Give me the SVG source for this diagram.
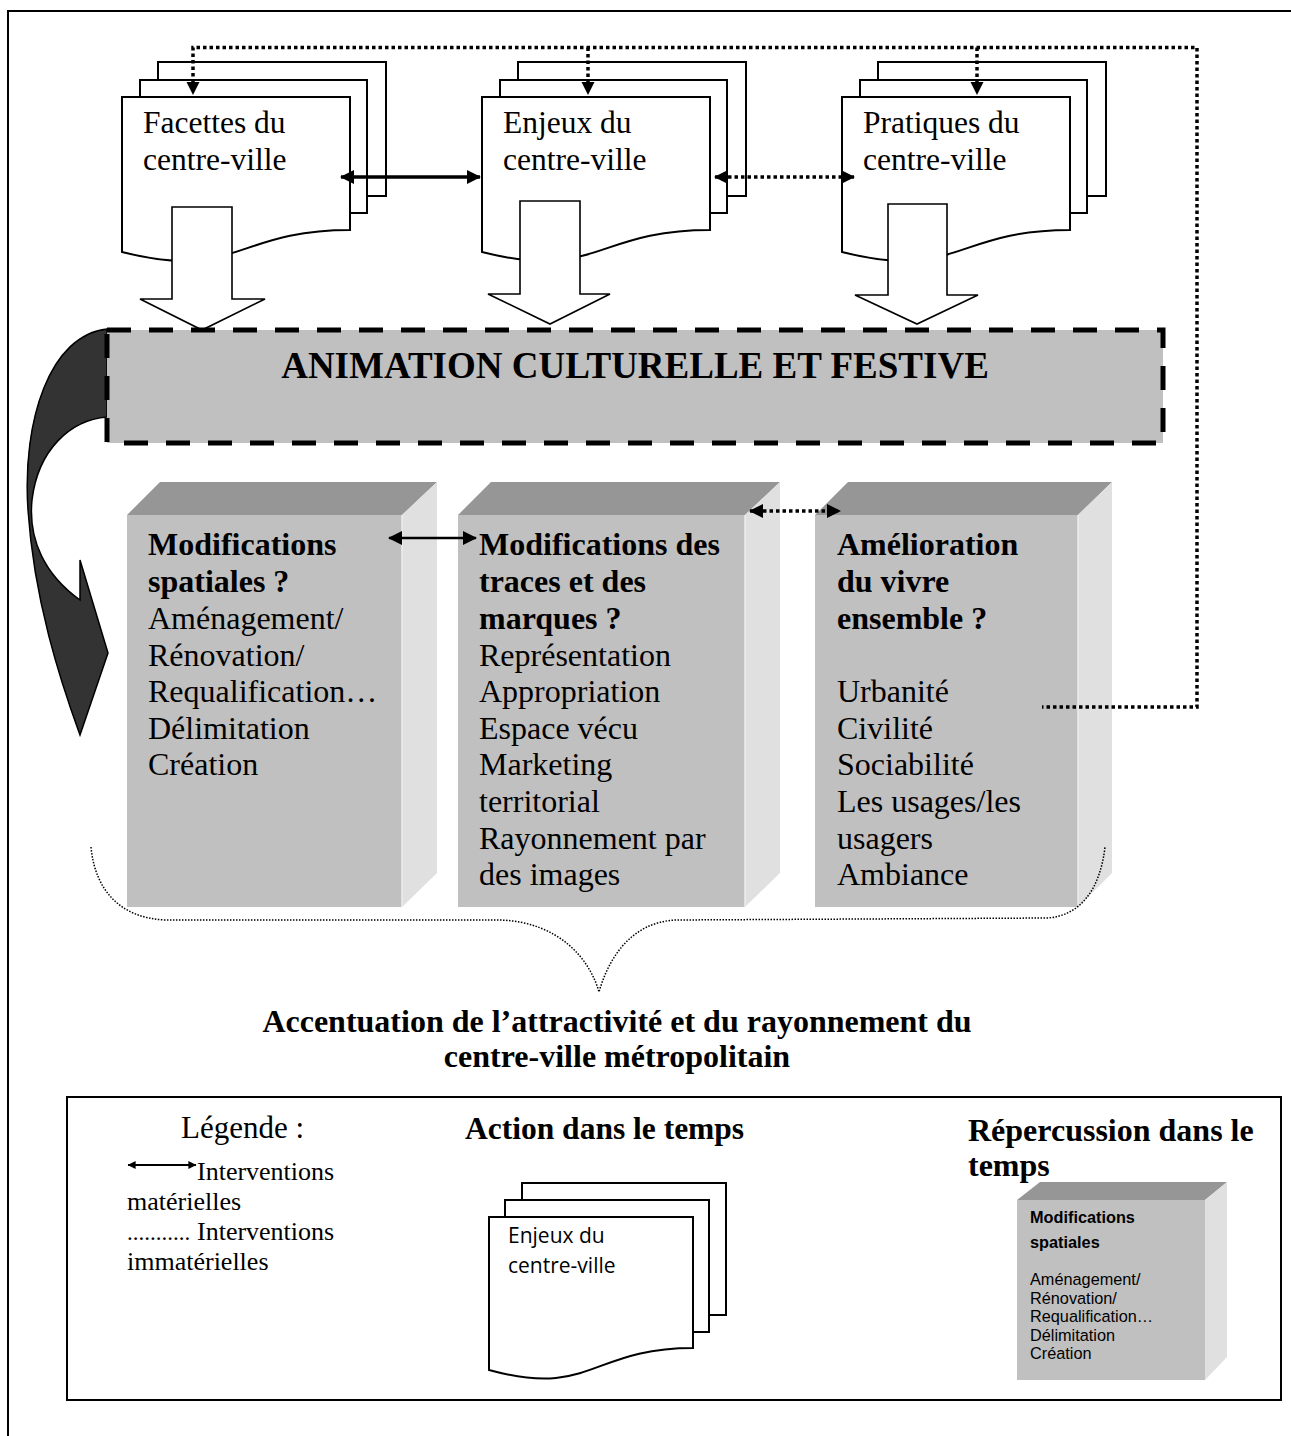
<svg xmlns="http://www.w3.org/2000/svg" width="1291" height="1436" viewBox="0 0 1291 1436">
<defs>
<style>
.serif{font-family:"Liberation Serif","Times New Roman",serif;fill:#000}
.sans{font-family:"Open Sans","Noto Sans",sans-serif;fill:#000}
.lsans{font-family:"Liberation Sans",Arial,sans-serif;fill:#000}
.b{font-weight:bold}
.page{fill:#fff;stroke:#000;stroke-width:2}
.blk{fill:#fff;stroke:#000;stroke-width:1.6}
.solid{stroke:#000;stroke-width:3.5;fill:none}
.dot{stroke:#000;stroke-width:3.5;fill:none;stroke-dasharray:3.5 3}
.front{fill:#c0c0c0}
.top{fill:#969696}
.side{fill:#e0e0e0}
</style>
<marker id="ah" viewBox="0 0 14 14" refX="13" refY="7" markerWidth="14" markerHeight="14" markerUnits="userSpaceOnUse" orient="auto-start-reverse">
<path d="M0,0 L14,7 L0,14 Z" fill="#000"/>
</marker>
<marker id="ahs" viewBox="0 0 10 10" refX="9.5" refY="5" markerWidth="9" markerHeight="8" markerUnits="userSpaceOnUse" orient="auto-start-reverse">
<path d="M0,0 L10,5 L0,10 Z" fill="#000"/>
</marker>
</defs>
<rect width="1291" height="1436" fill="#fff"/>
<path d="M8,1436 V11 H1291" fill="none" stroke="#000" stroke-width="2"/>

<g id="doc-facettes">
<rect class="page" x="158" y="62" width="228" height="134"/>
<rect class="page" x="140" y="80" width="227" height="133"/>
<path class="page" d="M122,97 H350 V230 C236,230 236,281 122,252 Z"/>
<text class="serif" font-size="31.5" x="143" y="133">Facettes du</text>
<text class="serif" font-size="31.5" x="143" y="170">centre-ville</text>
</g>
<g id="doc-enjeux">
<rect class="page" x="518" y="62" width="228" height="134"/>
<rect class="page" x="500" y="80" width="227" height="133"/>
<path class="page" d="M482,97 H710 V230 C596,230 596,281 482,252 Z"/>
<text class="serif" font-size="31.5" x="503" y="133">Enjeux du</text>
<text class="serif" font-size="31.5" x="503" y="170">centre-ville</text>
</g>
<g id="doc-pratiques">
<rect class="page" x="878" y="62" width="228" height="134"/>
<rect class="page" x="860" y="80" width="227" height="133"/>
<path class="page" d="M842,97 H1070 V230 C956,230 956,281 842,252 Z"/>
<text class="serif" font-size="31.5" x="863" y="133">Pratiques du</text>
<text class="serif" font-size="31.5" x="863" y="170">centre-ville</text>
</g>

<g id="block-arrows">
<path class="blk" d="M172,207 H232 V299 H265 L202,330 L140,299 H172 Z"/>
<path class="blk" d="M520,201 H580 V294 H610 L550,324 L488,294 H520 Z"/>
<path class="blk" d="M888,204 H947 V295 H978 L917,324 L855,295 H888 Z"/>
</g>

<g id="curved-arrow">
<path d="M107,329 C50,335 22,420 28,510 C34,600 60,680 80,735 L108,653 L80,560 L80,600 C45,575 28,540 32,500 C38,450 70,420 107,417 Z" fill="#333" stroke="#000" stroke-width="1.5"/>
</g>

<g id="animation">
<rect x="107" y="330" width="1056" height="113" fill="#c0c0c0" stroke="#000" stroke-width="5" stroke-dasharray="24 18"/>
<text class="serif b" font-size="37" x="635" y="378" text-anchor="middle">ANIMATION CULTURELLE ET FESTIVE</text>
</g>

<g id="box-spatiales">
<polygon class="top" points="127,515 160,482 437,482 402,515"/>
<polygon class="side" points="402,515 437,482 437,873 402,907"/>
<rect class="front" x="127" y="515" width="275" height="392"/>
<line x1="402" y1="515" x2="402" y2="907" stroke="#ececec" stroke-width="1.5"/>
<g class="serif" font-size="32">
<text class="b" x="148" y="555">Modifications</text>
<text class="b" x="148" y="592">spatiales ?</text>
<text x="148" y="629">Aménagement/</text>
<text x="148" y="666">Rénovation/</text>
<text x="148" y="702">Requalification…</text>
<text x="148" y="739">Délimitation</text>
<text x="148" y="775">Création</text>
</g>
</g>

<g id="box-traces">
<polygon class="top" points="458,515 491,482 780,482 745,515"/>
<polygon class="side" points="745,515 780,482 780,873 745,907"/>
<rect class="front" x="458" y="515" width="287" height="392"/>
<line x1="745" y1="515" x2="745" y2="907" stroke="#ececec" stroke-width="1.5"/>
<g class="serif" font-size="32">
<text class="b" x="479" y="555">Modifications des</text>
<text class="b" x="479" y="592">traces et des</text>
<text class="b" x="479" y="629">marques ?</text>
<text x="479" y="666">Représentation</text>
<text x="479" y="702">Appropriation</text>
<text x="479" y="739">Espace vécu</text>
<text x="479" y="775">Marketing</text>
<text x="479" y="812">territorial</text>
<text x="479" y="849">Rayonnement par</text>
<text x="479" y="885">des images</text>
</g>
</g>

<g id="box-vivre">
<polygon class="top" points="815,515 848,482 1112,482 1078,515"/>
<polygon class="side" points="1078,515 1112,482 1112,873 1078,907"/>
<rect class="front" x="815" y="515" width="263" height="392"/>
<line x1="1078" y1="515" x2="1078" y2="907" stroke="#ececec" stroke-width="1.5"/>
<g class="serif" font-size="32">
<text class="b" x="837" y="555">Amélioration</text>
<text class="b" x="837" y="592">du vivre</text>
<text class="b" x="837" y="629">ensemble ?</text>
<text x="837" y="702">Urbanité</text>
<text x="837" y="739">Civilité</text>
<text x="837" y="775">Sociabilité</text>
<text x="837" y="812">Les usages/les</text>
<text x="837" y="849">usagers</text>
<text x="837" y="885">Ambiance</text>
</g>
</g>

<g id="connectors">
<path class="dot" d="M193,83 V47.5 H1197 V707 H1042"/>
<path class="dot" d="M588,47.5 V83"/>
<path class="dot" d="M977,47.5 V83"/>
<path d="M186.5,82 L199.5,82 L193,95 Z" fill="#000"/>
<path d="M581.5,82 L594.5,82 L588,95 Z" fill="#000"/>
<path d="M970.5,82 L983.5,82 L977,95 Z" fill="#000"/>
<path class="solid" d="M341,177 H480" marker-start="url(#ah)" marker-end="url(#ah)"/>
<path class="dot" d="M715,177 H854" marker-start="url(#ah)" marker-end="url(#ah)"/>
<path stroke="#000" stroke-width="2.5" fill="none" d="M389,538 H476" marker-start="url(#ah)" marker-end="url(#ah)"/>
<path class="dot" d="M750,511 H840" marker-start="url(#ah)" marker-end="url(#ah)"/>
<path d="M91,847 C95,890 120,918 165,920 L500,920 C560,922 590,960 599,992 C608,960 630,922 676,920 L1047,918 C1080,916 1100,890 1105,847" fill="none" stroke="#000" stroke-width="1.5" stroke-dasharray="1.5 1.5"/>
</g>

<g id="conclusion">
<text class="serif b" font-size="32" x="617" y="1032" text-anchor="middle">Accentuation de l’attractivité et du rayonnement du</text>
<text class="serif b" font-size="32" x="617" y="1067" text-anchor="middle">centre-ville métropolitain</text>
</g>

<g id="legend">
<rect x="67" y="1097" width="1214" height="303" fill="none" stroke="#000" stroke-width="2"/>
<text class="serif" font-size="31" x="181" y="1138">Légende :</text>
<path d="M128,1165 H196" stroke="#000" stroke-width="2" marker-start="url(#ahs)" marker-end="url(#ahs)"/>
<text class="serif" font-size="26" x="197" y="1180">Interventions</text>
<text class="serif" font-size="26" x="127" y="1210">matérielles</text>
<text class="serif" font-size="23" x="127" y="1240">...........</text>
<text class="serif" font-size="26" x="197" y="1240">Interventions</text>
<text class="serif" font-size="26" x="127" y="1270">immatérielles</text>
<text class="serif b" font-size="31.5" x="465" y="1139">Action dans le temps</text>
<text class="serif b" font-size="32" x="968" y="1141">Répercussion dans le</text>
<text class="serif b" font-size="32" x="968" y="1176">temps</text>
</g>

<g id="legend-doc">
<rect class="page" x="522" y="1183" width="204" height="132"/>
<rect class="page" x="505" y="1200" width="204" height="132"/>
<path class="page" d="M489,1217 H693 V1348 C591,1348 591,1398 489,1370 Z"/>
<text class="sans" font-size="21" x="508" y="1243">Enjeux du</text>
<text class="sans" font-size="21" x="508" y="1273">centre-ville</text>
</g>

<g id="legend-box">
<polygon class="top" points="1017,1200 1040,1182 1227,1182 1205,1200"/>
<polygon class="side" points="1205,1200 1227,1182 1227,1357 1205,1380"/>
<rect class="front" x="1017" y="1200" width="188" height="180"/>
<g class="lsans" font-size="16.3">
<text class="b" x="1030" y="1223">Modifications</text>
<text class="b" x="1030" y="1248">spatiales</text>
<text x="1030" y="1285">Aménagement/</text>
<text x="1030" y="1303.5">Rénovation/</text>
<text x="1030" y="1322">Requalification…</text>
<text x="1030" y="1340.5">Délimitation</text>
<text x="1030" y="1359">Création</text>
</g>
</g>
</svg>
